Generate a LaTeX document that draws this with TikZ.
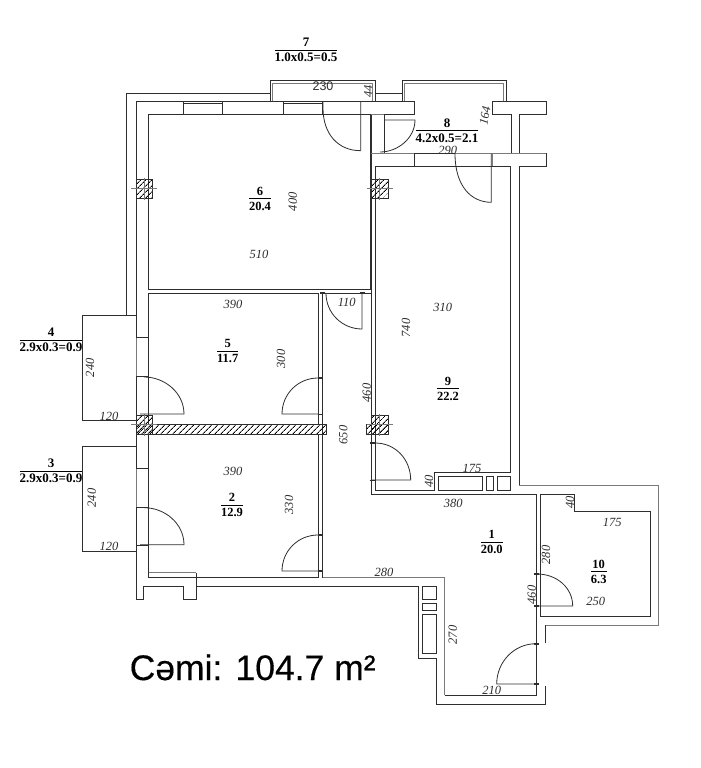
\documentclass[tikz,border=0pt]{standalone}
\usepackage{fontspec}
\setmainfont{Liberation Serif}
\newfontfamily\plansans{Liberation Sans}
\newfontfamily\totalsans[FakeBold=0.3]{Liberation Sans}
\usetikzlibrary{patterns.meta}
\definecolor{walldark}{HTML}{2E2E2E}
\definecolor{wallgrey}{HTML}{7A7A7A}
\tikzset{
  wall/.style={draw=walldark, line width=1pt},
  thinwall/.style={draw=wallgrey, line width=0.9pt},
  leaf/.style={draw=walldark, line width=0.8pt},
  stop/.style={draw=walldark, line width=1.8pt},
  hatched/.style={draw=walldark, line width=1pt, pattern={Lines[angle=45,distance=4pt,line width=0.9pt]}, pattern color=black},
  cross/.style={draw=wallgrey, line width=0.4pt},
  arealabel/.style={inner sep=0pt, font=\bfseries\fontsize{12.5}{13}\selectfont},
  balconylabel/.style={inner sep=0pt, font=\bfseries\fontsize{13}{14}\selectfont},
  dimlabel/.style={inner sep=0pt, text=walldark, font=\itshape\fontsize{12.5}{13}\selectfont},
}
\newcommand{\areafrac}[2]{\setlength{\tabcolsep}{0pt}\renewcommand{\arraystretch}{0}\begin{tabular}{c}\rule[-3.3pt]{0pt}{10pt}#1\\\hline \rule[-1pt]{0pt}{12.3pt}#2\end{tabular}}
\begin{document}
\begin{tikzpicture}[x=1pt, y=-1pt]
    \useasboundingbox (0,0) rectangle (701,768);
    \fill[white] (0,0) rectangle (701,768);
    % outer shell
    \draw[wall] (270,93) -- (126,93) -- (126,315);
    \draw[wall] (136,337) -- (136,101) -- (414,101) -- (414,114) -- (384,114) -- (384,153);
    \draw[wall] (136,377) -- (136,468);
    \draw[wall] (136,507) -- (136,599) -- (143,599) -- (143,586) -- (183,586) -- (183,599) -- (196,599) -- (196,573);
    \draw[thinwall] (136,337) -- (136,377) (136,468) -- (136,507);
    \draw[wall] (196,586) -- (418.7,586) -- (418.7,658) -- (436,658) -- (436,704) -- (545.7,704) -- (545.7,686);
    \draw[wall] (545.7,643) -- (545.7,625);
    \draw[thinwall] (545.7,625) -- (658.5,625) -- (658.5,485) -- (519,485);
    \draw[wall] (519,485) -- (519,166.7) -- (546,166.7) -- (546,153.5) -- (519,153.5) -- (519,114) -- (546,114) -- (546,101) -- (492.7,101) -- (492.7,114) -- (511.7,114) -- (511.7,153.5);
    % balconies
    \draw[wall] (270,101) -- (270,80) -- (375,80) -- (375,101);
    \draw[thinwall] (272.5,101) -- (272.5,83) -- (372.5,83) -- (372.5,101);
    \draw[wall] (375,93) -- (402,93);
    \draw[wall] (402,101) -- (402,80) -- (506,80) -- (506,101);
    \draw[thinwall] (404.5,101) -- (404.5,83) -- (503.5,83) -- (503.5,101);
    \draw[wall] (136,315) -- (82.3,315) -- (82.3,420) -- (136,420);
    \draw[wall] (136,446) -- (82.3,446) -- (82.3,551) -- (136,551);
    % rooms
    \draw[wall] (148.5,114.7) rectangle (370.7,289);
    \draw[wall] (148.5,293.3) rectangle (318,424.3);
    \draw[wall] (148.5,434) rectangle (318,577);
    \draw[thinwall] (148.5,572.7) -- (196,572.7);
    \draw[wall] (322.6,293.3) -- (322.6,577.7);
    \draw[thinwall] (322.6,577.7) -- (444.7,577.7) -- (444.7,695);
    \draw[wall] (322.6,293.3) -- (371,293.3);
    \draw[wall] (444.7,695) -- (536.7,695) -- (536.7,494.5) -- (371,494.5) -- (371,114.7);
    \draw[thinwall] (371,114.7) -- (384,114.7) (371,153.5) -- (546,153.5);
    \draw[wall] (414,153.5) -- (455,153.5) (414,153.5) -- (414,166.7);
    \draw[thinwall] (492.7,153.5) -- (492.7,166.7);
    \draw[wall] (375,490) -- (375,166.7) -- (510.7,166.7) -- (510.7,472) -- (434,472) -- (434,490) -- cycle;
    \draw[wall] (540.7,494.7) -- (574.3,494.7) -- (574.3,511.7) -- (650,511.7) -- (650,616) -- (540.7,616) -- cycle;
    % windows
    \foreach \x in {183.3,222,283,322}
    \draw[wall] (\x,101) -- (\x,114.7);
    \foreach \xa/\xb in {184/222,284/322}
    \draw[wall] (\xa,103) -- (\xb,103);
    \foreach \y in {337,376.7,468,507.7,415,545}
    \draw[wall] (136,\y) -- (148.5,\y);
    % fitted boxes
    \foreach \xa/\xb in {438.3/482,486.3/493,497/510.7}
    \draw[wall] (\xa,476.7) rectangle (\xb,490);
    \foreach \ya/\yb in {586.3/599,603.3/610,614/653.7}
    \draw[wall] (422.7,\ya) rectangle (436.3,\yb);
    % hatched walls and columns
    \foreach \xa/\ya/\xb/\yb in {136/179/152/198,371/179/388/198,136/415/152.6/434,136/424.3/326.7/434,371/415.7/388.7/434,366/424.3/388.7/434}
    \draw[hatched] (\xa,\ya) rectangle (\xb,\yb);
    \foreach \x/\y in {144/188.5,379.5/188.5,144/424.5,379.5/424.5}{
      \draw[cross] (\x-13,\y) -- (\x+13,\y);
      \draw[cross] (\x,\y-11) -- (\x,\y+11);
    }
    % doors
    \draw[leaf] (360.7,101) -- (360.7,150.7) (323,101) -- (323,108) .. controls (323,134) and (338,150.7) .. (360.7,150.7);
    \draw[leaf] (384,120) -- (415,120) .. controls (415,138) and (398,152) .. (380,152);
    \draw[leaf] (491.3,153.5) -- (491.3,202.3) .. controls (471,202.3) and (455,186) .. (455,153.5);
    \draw[leaf] (362,293.3) -- (362,329) .. controls (342,329) and (326,313) .. (326,293.3);
    \draw[leaf] (140,414) -- (184,414) .. controls (184,393) and (165,377) .. (144,377);
    \draw[leaf] (140,544.7) -- (184,544.7) .. controls (184,523.7) and (165,507.7) .. (144,507.7);
    \draw[leaf] (318,414) -- (282,414) .. controls (282,394) and (298,378) .. (318,378);
    \draw[leaf] (318,571) -- (282,571) .. controls (282,551) and (298,535) .. (318,535);
    \draw[leaf] (371,480) -- (410.7,480) .. controls (410.7,460) and (396,443) .. (375,443);
    \draw[leaf] (537,606) -- (572.7,606) .. controls (572.7,588) and (557,574) .. (537,574);
    \draw[leaf] (536,684) -- (496.7,684) .. controls (496.7,662) and (514,643.7) .. (536,643.7);
    \foreach \x/\y in {322.7/293,362/293,320/378,320/414.5,320/535,320/571,372/443,372/480.5,536.7/574,536.7/606,536.7/643.7,536.7/684}
    \draw[stop] (\x-2.5,\y) -- (\x+2.5,\y);
    % room labels
    \foreach \x/\y/\roomnum/\roomarea [count=\i] in {491.7/542.7/1/20.0,232/505.7/2/12.9,227.7/351.7/5/11.7,260/199/6/20.4,448/389/9/22.2,598.7/572/10/6.3}
    \node[arealabel] (room\i) at (\x,\y) {\areafrac{\roomnum}{\roomarea}};
    \foreach \x/\y/\roomnum/\roomarea [count=\i] in {51/471/3/2.9x0.3=0.9,51/340.7/4/2.9x0.3=0.9,306/50/7/1.0x0.5=0.5,447/130.7/8/4.2x0.5=2.1}
    \node[balconylabel] (balcony\i) at (\x,\y) {\areafrac{\roomnum}{\roomarea}};
    % dimensions
    \foreach \x/\y/\dimtext [count=\i] in {259/254/510,233/304/390,109/416/120,233/471.7/390,109/546.7/120,346.7/302.7/110,442.7/307.7/310,472/468/175,453.3/503/380,612.3/522.7/175,384/572.7/280,595.7/601.7/250,491.7/690.7/210,447.7/150/290}
    \node[dimlabel] (dim\i) at (\x,\y) {\dimtext};
    \foreach \x/\y/\dimtext [count=\i] in {292.7/201.7/400,281/359/300,90/367.7/240,289/505/330,91.7/498/240,406/328/740,366.7/393/460,343.3/435/650,429/481/40,570/502.7/40,546/555/280,531.7/595/460,452.7/635/270,368.3/91.7/44}
    \node[dimlabel, rotate=90] (vdim\i) at (\x,\y) {\dimtext};
    \node[dimlabel, rotate=80] (vdim15) at (485,116) {164};
    \node[inner sep=0pt, text=walldark, font=\plansans\fontsize{12.5}{13}\selectfont] (dimtop) at (323,86) {230};
    \node[inner sep=0pt, anchor=base west, font=\totalsans\fontsize{35.5}{38}\selectfont] (total) at (129.5,680) {Cəmi: 104.7 m²};
\end{tikzpicture}
\end{document}
